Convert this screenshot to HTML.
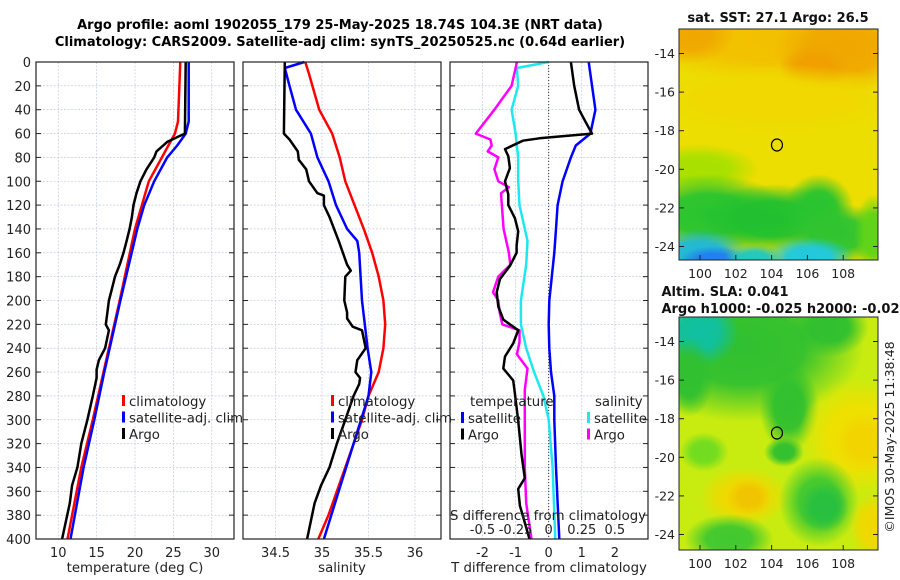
<!DOCTYPE html>
<html><head><meta charset="utf-8"><style>
body{margin:0;background:#fff;width:900px;height:580px;overflow:hidden}
svg{display:block;font-family:"DejaVu Sans","Liberation Sans",sans-serif}
</style></head><body>
<svg id="s" width="900" height="580" viewBox="0 0 900 580">
<defs id="defs">
<clipPath id="c1"><rect x="679" y="29" width="199" height="231"/></clipPath>
<clipPath id="c2"><rect x="679" y="317" width="199" height="233"/></clipPath>
</defs>
<text x="340" y="29" font-size="13" font-weight="bold" text-anchor="middle">Argo profile: aoml 1902055_179 25-May-2025 18.74S 104.3E (NRT data)</text>
<text x="340" y="46" font-size="13" font-weight="bold" text-anchor="middle">Climatology: CARS2009. Satellite-adj clim: synTS_20250525.nc (0.64d earlier)</text>
<g id="maps"></g>
<g id="plots"></g>
<text transform="translate(894,437) rotate(-90)" font-size="12.5" text-anchor="middle" fill="#222">©IMOS 30-May-2025 11:38:48</text>
</svg>
<script>
// ---- data ----
const depthTicks=[0,20,40,60,80,100,120,140,160,180,200,220,240,260,280,300,320,340,360,380,400];
const tClimD=[0,50,60,80,100,140,200,260,300,340,400];
const tClimV=[25.9,25.6,25.2,23.5,21.8,20.0,18.0,15.9,14.5,13.0,11.2];
const tSatD=[0,50,60,70,80,100,120,140,200,260,300,340,400];
const tSatV=[27.0,27.0,26.6,25.5,24.2,22.5,21.2,20.3,18.1,16.0,14.7,13.3,11.6];
const tArgoD=[0,60,63,67,75,80,90,100,110,120,130,140,150,160,170,180,190,200,210,220,225,240,250,258,265,280,300,320,340,355,370,400];
const tArgoV=[26.6,26.5,25.5,24.2,22.8,22.5,21.5,20.7,20.2,19.8,19.6,19.3,18.9,18.5,18.0,17.4,17.0,16.6,16.4,16.2,16.6,16.1,15.3,15.0,15.0,14.5,13.8,13.0,12.5,11.8,11.5,10.5];
const sClimD=[0,10,40,60,80,100,140,160,180,200,220,240,260,280,300,340,380,400];
const sClimV=[34.82,34.86,34.97,35.11,35.19,35.25,35.45,35.54,35.61,35.66,35.68,35.66,35.61,35.50,35.43,35.25,35.07,34.96];
const sSatD=[0,5,20,40,60,80,100,120,140,150,160,200,240,260,280,320,360,400];
const sSatV=[34.81,34.60,34.65,34.72,34.88,34.95,35.07,35.15,35.27,35.38,35.40,35.43,35.49,35.53,35.50,35.34,35.18,35.02];
const sArgoD=[0,60,65,75,82,90,100,110,112,120,130,150,170,175,180,200,210,215,222,225,240,250,260,265,270,280,300,320,340,355,370,400];
const sArgoV=[34.60,34.59,34.65,34.74,34.75,34.83,34.86,34.95,35.02,35.02,35.08,35.18,35.27,35.31,35.25,35.24,35.27,35.27,35.33,35.43,35.47,35.38,35.36,35.41,35.40,35.34,35.25,35.16,35.08,34.99,34.92,34.84];
const dTArgoD=[0,20,40,50,60,64,66,73,79,89,100,111,120,131,142,154,160,171,182,193,205,216,225,236,247,257,267,278,301,329,349,358,372,400];
const dTArgoV=[0.67,0.77,0.92,1.11,1.31,-0.28,-0.78,-1.32,-1.22,-1.17,-1.32,-1.22,-1.22,-1.02,-0.92,-0.97,-0.97,-1.17,-1.47,-1.57,-1.52,-1.37,-0.92,-1.07,-1.32,-1.37,-1.07,-1.02,-0.92,-0.82,-0.72,-0.92,-0.87,-0.58];
const dTSatD=[0,40,60,70,80,100,120,140,160,200,220,240,260,280,300,340,400];
const dTSatV=[1.21,1.41,1.26,0.82,0.67,0.42,0.27,0.22,0.17,0.02,0.0,0.02,0.07,0.17,0.17,0.22,0.32];
const dSSatD=[0,5,20,40,60,80,100,120,140,150,170,200,220,240,260,280,300,340,400];
const dSSatV=[0.0,-0.24,-0.23,-0.28,-0.25,-0.23,-0.23,-0.22,-0.18,-0.16,-0.17,-0.21,-0.21,-0.17,-0.11,-0.04,0.0,0.03,0.05];
const dSArgoD=[0,5,20,40,60,65,70,75,80,90,100,105,110,140,160,170,180,193,200,210,220,225,235,245,257,275,300,340,370,400];
const dSArgoV=[-0.24,-0.25,-0.28,-0.41,-0.55,-0.44,-0.43,-0.46,-0.38,-0.41,-0.38,-0.30,-0.36,-0.34,-0.30,-0.29,-0.38,-0.42,-0.38,-0.37,-0.35,-0.22,-0.22,-0.24,-0.16,-0.18,-0.18,-0.18,-0.17,-0.13];
const tTicks=[10,15,20,25,30], sTicks=[34.5,35,35.5,36], dTicks=[-2,-1,0,1,2], dsTicks=[-0.5,-0.25,0,0.25,0.5];
const latTicks=[-14,-16,-18,-20,-22,-24], lonTicks=[100,102,104,106,108];
// ---- helpers ----
const NS='http://www.w3.org/2000/svg';
function mk(tag,at,par){const e=document.createElementNS(NS,tag);for(const k in at)e.setAttribute(k,at[k]);par.appendChild(e);return e;}
const P=document.getElementById('plots');
const top0=62,bot0=539;
const yD=d=>top0+d*(bot0-top0)/400;
function panel(x0,x1,lo,hi,ticks,fmt,label,name,showY){
  const xs=v=>x0+(v-lo)*(x1-x0)/(hi-lo);
  const g=mk('g',{},P);
  
  
  ticks.forEach(t=>{mk('line',{x1:xs(t),x2:xs(t),y1:top0,y2:bot0,stroke:'#b8c0e0','stroke-width':0.6,'stroke-dasharray':'2,1.5'},g);});
  depthTicks.forEach(d=>{mk('line',{x1:x0,x2:x1,y1:yD(d),y2:yD(d),stroke:'#b8c0e0','stroke-width':0.6,'stroke-dasharray':'2,1.5'},g);
    mk('line',{x1:x0,x2:x0+5,y1:yD(d),y2:yD(d),stroke:'#222'},g);mk('line',{x1:x1-5,x2:x1,y1:yD(d),y2:yD(d),stroke:'#222'},g);
    if(showY){const t=mk('text',{x:x0-5,y:yD(d)+5,'font-size':13,'text-anchor':'end',fill:'#222'},g);t.textContent=d;}});
  ticks.forEach(t=>{const tx=mk('text',{x:xs(t),y:bot0+18,'font-size':13,'text-anchor':'middle',fill:'#222'},g);tx.textContent=fmt(t);
    
    });
  const lb=mk('text',{x:(x0+x1)/2,y:bot0+33,'font-size':13.3,'text-anchor':'middle',fill:'#222'},g);lb.textContent=label;
  
  
  return {g,xs};
}
function line(pn,D,V,col,name,sc){const pts=D.map((d,i)=>pn.xs(V[i]*(sc||1)).toFixed(1)+','+yD(d).toFixed(1)).join(' ');
  const l=mk('polyline',{points:pts,fill:'none',stroke:col,'stroke-width':2.5,'stroke-linejoin':'round'},pn.g);
  
  }
function frame(x0,x1,g){mk('rect',{x:x0,y:top0,width:x1-x0,height:bot0-top0,fill:'none',stroke:'#222','stroke-width':1.2},g);}
function legend(g,x,y,items){items.forEach((it,i)=>{mk('rect',{x:x,y:y+i*16.5-6,width:3,height:11,fill:it[1]},g);
  const t=mk('text',{x:x+7,y:y+i*16.5+5,'font-size':13.3,fill:'#222'},g);t.textContent=it[0];
  
  });}
// panel 1
const p1=panel(36,234,7.1,32.9,tTicks,t=>t,'temperature (deg C)','temperature-panel',true);
line(p1,tClimD,tClimV,'#f00','temp-climatology-line');line(p1,tSatD,tSatV,'#00f','temp-satellite-line');line(p1,tArgoD,tArgoV,'#000','temp-argo-line');
frame(36,234,p1.g);legend(p1.g,122,401,[['climatology','#f00'],['satellite-adj. clim','#00f'],['Argo','#000']]);
// panel 2
const p2=panel(243,441,34.15,36.28,sTicks,t=>t,'salinity','salinity-panel',false);
line(p2,sClimD,sClimV,'#f00','sal-climatology-line');line(p2,sSatD,sSatV,'#00f','sal-satellite-line');line(p2,sArgoD,sArgoV,'#000','sal-argo-line');
frame(243,441,p2.g);legend(p2.g,331,401,[['climatology','#f00'],['satellite-adj. clim','#00f'],['Argo','#000']]);
// panel 3
const p3=panel(450,648,-2.98,3.0,dTicks,t=>t,'T difference from climatology','difference-panel',false);
mk('line',{x1:p3.xs(0),x2:p3.xs(0),y1:top0,y2:bot0,stroke:'#333','stroke-width':1,'stroke-dasharray':'1,2'},p3.g);
line(p3,dTSatD,dTSatV,'#00f','dT-satellite-line');line(p3,dSSatD,dSSatV,'#1ee8ee','dS-satellite-line',4);
line(p3,dSArgoD,dSArgoV,'#f0f','dS-argo-line',4);line(p3,dTArgoD,dTArgoV,'#000','dT-argo-line');
frame(450,648,p3.g);
let t1=mk('text',{x:470,y:406,'font-size':13.3,fill:'#222'},p3.g);t1.textContent='temperature';
let t2=mk('text',{x:595,y:406,'font-size':13.3,fill:'#222'},p3.g);t2.textContent='salinity';
legend(p3.g,461,418,[['satellite','#00f'],['Argo','#000']]);legend(p3.g,587,418,[['satellite','#1ee8ee'],['Argo','#f0f']]);
let t3=mk('text',{x:548,y:520,'font-size':13.3,'text-anchor':'middle',fill:'#222'},p3.g);t3.textContent='S difference from climatology';
dsTicks.forEach(s=>{const tx=mk('text',{x:p3.xs(s*4),y:534,'font-size':13,'text-anchor':'middle',fill:'#222'},p3.g);tx.textContent=s;
  
  });
// maps (soft blobs via radial gradients)
const M=document.getElementById('maps');
const DEF=document.getElementById('defs');
const gradIds={};
function grad(col){if(gradIds[col])return gradIds[col];const id='g'+Object.keys(gradIds).length;
  const rg=mk('radialGradient',{id:id},DEF);
  mk('stop',{offset:'0','stop-color':col,'stop-opacity':1},rg);
  mk('stop',{offset:'0.5','stop-color':col,'stop-opacity':0.95},rg);
  mk('stop',{offset:'1','stop-color':col,'stop-opacity':0},rg);
  gradIds[col]=id;return id;}
function map(y0,h,clip,base,blobs,title,name){
  const g=mk('g',{},M);
  
  
  const latTop=y0+24.5;
  const lon=v=>700+(v-100)*17.9, lat=v=>latTop+(-14-v)*19.3;
  const cg=mk('g',{'clip-path':'url(#'+clip+')'},g);
  mk('rect',{x:679,y:y0,width:199,height:h,fill:base},cg);
  blobs.forEach(b=>mk('ellipse',{cx:679+b[0],cy:y0+b[1],rx:b[2],ry:b[3],fill:'url(#'+grad(b[4])+')'},cg));
  mk('ellipse',{cx:lon(104.3),cy:lat(-18.74),rx:5.5,ry:6,fill:'none',stroke:'#000','stroke-width':1.2},g);
  mk('rect',{x:679,y:y0,width:199,height:h,fill:'none',stroke:'#222','stroke-width':1},g);
  latTicks.forEach(v=>{mk('line',{x1:679,x2:684,y1:lat(v),y2:lat(v),stroke:'#222'},g);mk('line',{x1:873,x2:878,y1:lat(v),y2:lat(v),stroke:'#222'},g);
    const t=mk('text',{x:675,y:lat(v)+4.5,'font-size':12.5,'text-anchor':'end',fill:'#222'},g);t.textContent=v;});
  lonTicks.forEach(v=>{mk('line',{x1:lon(v),x2:lon(v),y1:y0+h-5,y2:y0+h,stroke:'#222'},g);
    const t=mk('text',{x:lon(v),y:y0+h+18,'font-size':12.5,'text-anchor':'middle',fill:'#222'},g);t.textContent=v;});
  title.forEach(s=>{const t=mk('text',{x:s[1],y:s[2],'font-size':13,'font-weight':'bold','text-anchor':'middle',fill:'#111'},g);t.textContent=s[0];});
}
// [cx, cy, rx, ry, colour] in map-local pixels
map(29,231,'c1','#ecde00',[
 [100,10,150,45,'#f2c000'],[10,5,45,30,'#f0a800'],[165,20,70,45,'#f0a800'],[135,40,35,25,'#f0a000'],
 [100,70,130,35,'#f0d800'],[20,140,60,25,'#a8e000'],
 [30,185,80,40,'#28c430'],[95,190,75,35,'#20c030'],[140,180,35,35,'#28c430'],[160,205,55,30,'#30c430'],[195,205,20,40,'#60d418'],
 [20,225,50,25,'#20b8d8'],[35,232,35,15,'#2080f0'],[130,228,45,20,'#20c8e0'],[75,230,30,15,'#20c8c0']
],[['sat. SST: 27.1 Argo: 26.5',778,22]],'sst-map');
map(317,233,'c2','#c8ec10',[
 [65,30,120,75,'#30c030'],[20,15,40,35,'#10c0a0'],[150,10,40,30,'#30c030'],[10,60,25,40,'#30c030'],
 [110,90,30,45,'#30c030'],[105,135,20,15,'#30c030'],
 [180,120,60,60,'#f0e000'],[185,125,30,30,'#f2d400'],
 [25,135,25,20,'#70dc20'],[65,180,45,30,'#f0d800'],[70,180,22,18,'#f0c400'],
 [140,185,40,45,'#40c830'],[145,190,25,25,'#28c040'],
 [50,222,45,25,'#40c830'],[195,210,25,35,'#f0d800']
],[['Altim. SLA: 0.041',725,296],['Argo h1000: -0.025 h2000: -0.025',785,313]],'sla-map');
</script>
</body></html>
